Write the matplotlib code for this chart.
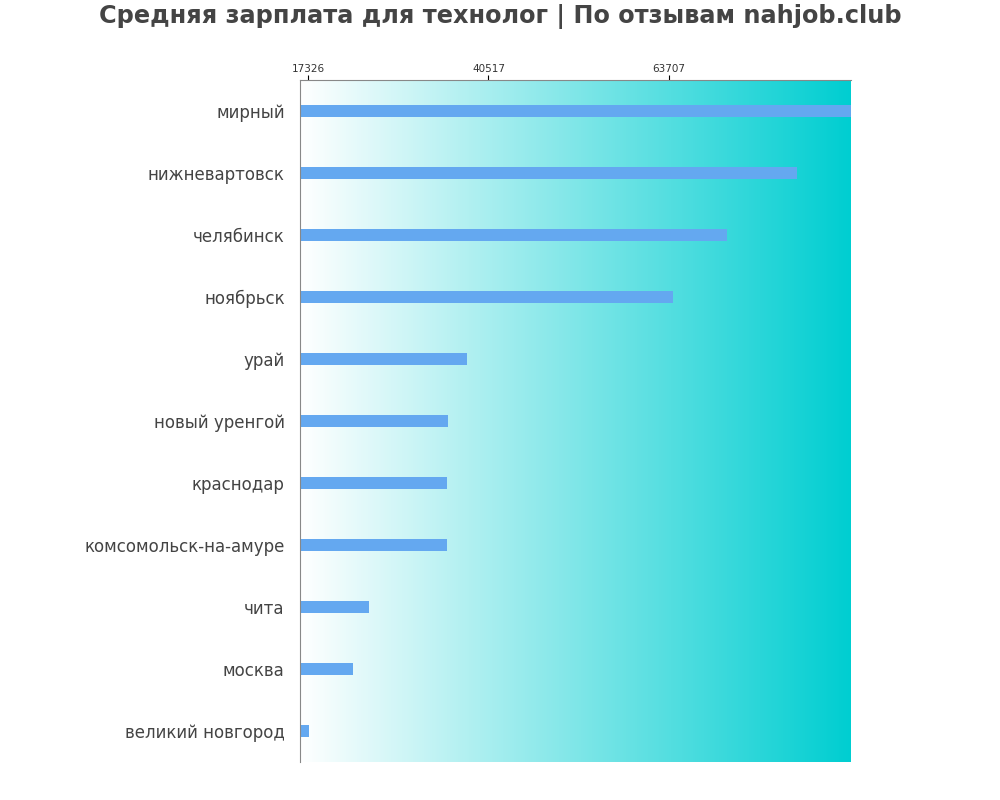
import matplotlib
matplotlib.use("Agg")
import matplotlib.pyplot as plt
import numpy as np
from matplotlib.colors import LinearSegmentedColormap

plt.rcParams["font.family"] = "DejaVu Sans"

cities = ["мирный", "нижневартовск", "челябинск", "ноябрьск", "урай", "новый уренгой",
          "краснодар", "комсомольск-на-амуре", "чита", "москва", "великий новгород"]
salaries = [87100, 80160, 71160, 64220, 37750, 35300, 35180, 35180, 25160, 23110, 17450]
ticks = [17326, 40517, 63707]

fig = plt.figure(figsize=(10, 8), dpi=100)
ax = fig.add_axes([0.300, 0.0475, 0.551, 0.8525])
xmin, xmax = 16298, 87100
n = len(cities)
cmap = LinearSegmentedColormap.from_list("g", ["#ffffff", "#00CED1"])
grad = np.linspace(0, 1, 256).reshape(1, -1)
ax.imshow(grad, aspect="auto", cmap=cmap, extent=[xmin, xmax, n - 0.5, -0.5], zorder=0)
y = np.arange(n)
ax.barh(y, [s - xmin for s in salaries], left=xmin, height=0.2, color="#64A8F0", zorder=2)
ax.set_xlim(xmin, xmax)
ax.set_ylim(n - 0.5, -0.5)
ax.set_yticks(y)
ax.set_yticklabels(cities, fontsize=12, color="#444444")
for lab in ax.get_yticklabels():
    lab.set_y(lab.get_position()[1])
ax.xaxis.tick_top()
ax.set_xticks(ticks)
ax.set_xticklabels([str(t) for t in ticks], fontsize=7.5, color="#333333")
for s in ["right", "bottom"]:
    ax.spines[s].set_visible(False)
for s in ["left", "top"]:
    ax.spines[s].set_color("#888888")
ax.tick_params(axis="y", length=0, pad=11)
ax.tick_params(axis="x", pad=1)
fig.suptitle("Средняя зарплата для технолог | По отзывам nahjob.club", fontsize=17.3,
             fontweight="bold", color="#444444", y=0.995)
fig.savefig("out.png")
